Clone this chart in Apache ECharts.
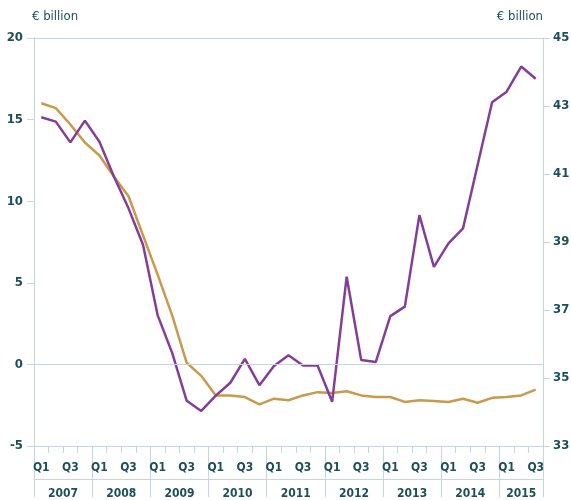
<!DOCTYPE html>
<html>
<head>
<meta charset="utf-8">
<script src="https://cdn.jsdelivr.net/npm/echarts@6/dist/echarts.min.js"></script>
<style>
  html, body { margin: 0; padding: 0; background: #fff; }
  #chart { width: 571px; height: 500px; }
</style>
</head>
<body>
<div id="chart"></div>
<script>
var years = ['2007', '2008', '2009', '2010', '2011', '2012', '2013', '2014', '2015'];
var quarterNames = ['Q1', 'Q2', 'Q3', 'Q4'];

// gold line, left axis
var goldValues = [16.0, 15.7, 14.7, 13.6, 12.8, 11.5, 10.3, 7.9, 5.5, 3.0,
  0.1, -0.7, -1.9, -1.9, -2.0, -2.45, -2.1, -2.2, -1.9, -1.7,
  -1.75, -1.65, -1.9, -2.0, -2.0, -2.3, -2.2, -2.25, -2.3, -2.1,
  -2.35, -2.05, -2.0, -1.9, -1.55];
// purple line, right axis
var purpleValues = [42.67, 42.54, 41.93, 42.57, 41.95, 40.92, 39.99, 38.91, 36.85, 35.74,
  34.33, 34.03, 34.48, 34.86, 35.56, 34.79, 35.35, 35.67, 35.37, 35.37,
  34.30, 37.98, 35.53, 35.47, 36.82, 37.10, 39.79, 38.27, 38.96, 39.40,
  41.26, 43.11, 43.42, 44.16, 43.80];

var yearLabelPos = [2, 6, 10, 14, 18, 22, 26, 30, 33.5];
var yearEdges = [0, 4, 8, 12, 16, 20, 24, 28, 32, 35];

var categories = [];
years.forEach(function (y) {
  quarterNames.forEach(function (q) {
    if (categories.length < goldValues.length) categories.push(q);
  });
});

var axisColor = '#c3d7dc';
var textColor = '#1d4f5b';
var font = "'DejaVu Sans Condensed', 'DejaVu Sans', sans-serif";

var myChart = echarts.init(document.getElementById('chart'));
var option = {
  animation: false,
  grid: { left: 34, right: 28, top: 38, bottom: 54, containLabel: false, outerBoundsMode: 'none' },
  graphic: [
    { type: 'text', left: 32, top: 10, style: { text: '€ billion', fill: textColor, font: '13px ' + font } },
    { type: 'text', right: 28, top: 10, style: { text: '€ billion', fill: textColor, font: '13px ' + font } }
  ],
  xAxis: [
    {
      type: 'category',
      position: 'bottom',
      data: categories,
      boundaryGap: true,
      axisLine: { show: true, onZero: false, lineStyle: { color: axisColor, width: 1 } },
      axisTick: { show: true, interval: 0, length: 7, lineStyle: { color: axisColor } },
      axisLabel: {
        interval: 0,
        margin: 16,
        color: textColor,
        fontFamily: font,
        fontWeight: 'bold',
        fontSize: 12,
        formatter: function (v, i) { return (i % 4 === 0 || i % 4 === 2) ? v : ''; }
      },
      splitLine: { show: false }
    },
    {
      type: 'value',
      position: 'bottom',
      min: 0,
      max: 35,
      axisLine: { show: false, onZero: false },
      axisTick: { show: true, customValues: yearEdges, length: 51, lineStyle: { color: axisColor } },
      axisLabel: {
        customValues: yearLabelPos,
        margin: 42,
        color: textColor,
        fontFamily: font,
        fontWeight: 'bold',
        fontSize: 12,
        formatter: function (v) { return years[Math.floor(v / 4)]; }
      },
      splitLine: { show: false }
    },
    {
      type: 'value',
      position: 'bottom',
      offset: 33,
      min: 0,
      max: 35,
      axisLine: { show: true, onZero: false, lineStyle: { color: axisColor } },
      axisTick: { show: false },
      axisLabel: { show: false },
      splitLine: { show: false }
    },
    {
      type: 'value',
      position: 'top',
      min: 0,
      max: 35,
      axisLine: { show: true, onZero: false, lineStyle: { color: axisColor } },
      axisTick: { show: false },
      axisLabel: { show: false },
      splitLine: { show: false }
    }
  ],
  yAxis: [
    {
      type: 'value',
      position: 'left',
      min: -5,
      max: 20,
      interval: 5,
      axisLine: { show: true, onZero: false, lineStyle: { color: axisColor } },
      axisTick: { show: true, inside: false, length: 7, lineStyle: { color: axisColor } },
      axisLabel: { margin: 11, color: textColor, fontFamily: font, fontWeight: 'bold', fontSize: 13 },
      splitLine: { show: false }
    },
    {
      type: 'value',
      position: 'right',
      min: 33,
      max: 45,
      interval: 2,
      axisLine: { show: true, onZero: false, lineStyle: { color: axisColor } },
      axisTick: { show: true, inside: false, length: 7, lineStyle: { color: axisColor } },
      axisLabel: { margin: 10, color: textColor, fontFamily: font, fontWeight: 'bold', fontSize: 13 },
      splitLine: { show: false }
    }
  ],
  series: [
    {
      name: 'gold',
      type: 'line',
      xAxisIndex: 0,
      yAxisIndex: 0,
      data: goldValues,
      symbol: 'none',
      lineStyle: { color: '#c99a4b', width: 2.5 },
      z: 3,
      markLine: {
        silent: true,
        symbol: 'none',
        label: { show: false },
        lineStyle: { color: axisColor, type: 'solid', width: 1 },
        data: [{ yAxis: 0 }]
      }
    },
    {
      name: 'purple',
      type: 'line',
      xAxisIndex: 0,
      yAxisIndex: 1,
      data: purpleValues,
      symbol: 'none',
      lineStyle: { color: '#833f98', width: 2.5 },
      z: 4
    }
  ]
};
myChart.setOption(option);
</script>
</body>
</html>
